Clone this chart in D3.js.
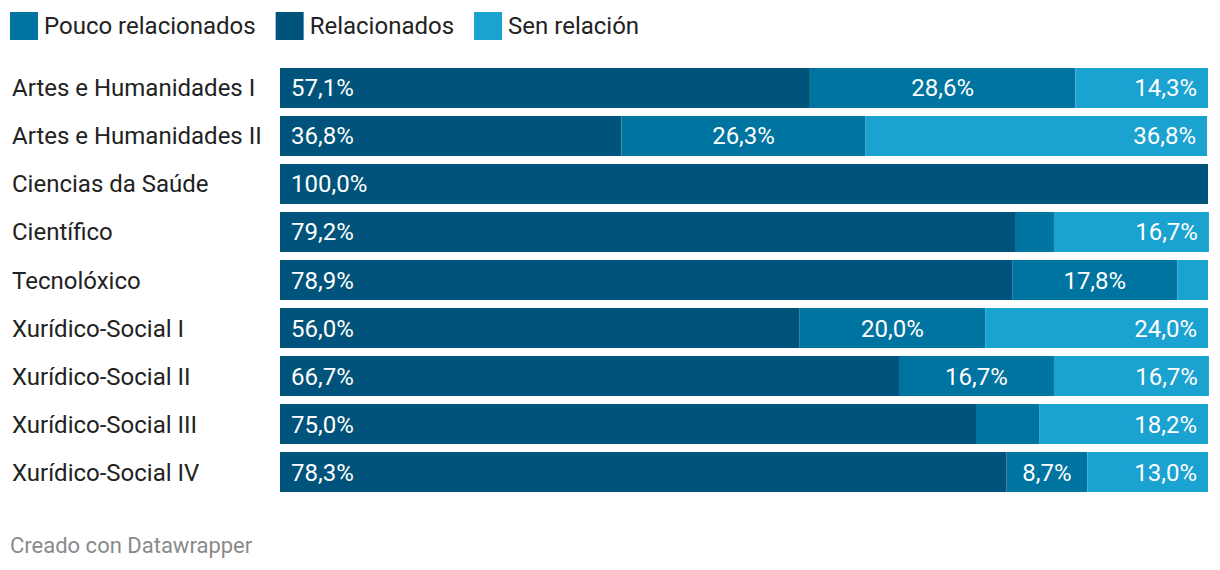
<!DOCTYPE html>
<html><head><meta charset="utf-8">
<script src="https://cdn.jsdelivr.net/npm/d3@7"></script>
<style>body{margin:0;background:#fff;font-family:Roboto,sans-serif;}</style>
</head><body>
<svg id="chart" width="1220" height="570"></svg>
<script>
const categories = ["Artes e Humanidades I","Artes e Humanidades II","Ciencias da Saúde","Científico","Tecnolóxico","Xurídico-Social I","Xurídico-Social II","Xurídico-Social III","Xurídico-Social IV"];
const relacionados = [57.1,36.8,100.0,79.2,78.9,56.0,66.7,75.0,78.3];
const poucoRelacionados = [28.6,26.3,0,4.2,17.8,20.0,16.7,6.8,8.7];
const senRelacion = [14.3,36.8,0,16.7,3.3,24.0,16.7,18.2,13.0];
const seriesNames = ["Relacionados","Pouco relacionados","Sen relación"];
const legendOrder = ["Pouco relacionados","Relacionados","Sen relación"];
const colors = {"Relacionados":"#00537a","Pouco relacionados":"#0074a0","Sen relación":"#1aa2d0"};

const svg = d3.select("#chart");
const fmt = v => v.toFixed(1).replace(".", ",") + "%";

// legend
let lx = 10;
const lg = svg.append("g");
legendOrder.forEach(name => {
  lg.append("rect").attr("x", lx).attr("y", 12).attr("width", 28).attr("height", 28).attr("fill", colors[name]);
  const t = lg.append("text").attr("x", lx + 34).attr("y", 34).attr("font-size", 24).attr("fill", "#222").text(name);
  lx += 34 + t.node().getComputedTextLength() + 20;
});

const data = categories.map((c, i) => ({cat: c, vals: [relacionados[i], poucoRelacionados[i], senRelacion[i]]}));
const x = d3.scaleLinear().domain([0, 100]).range([280, 1208]);
const y = d3.scaleBand().domain(categories).range([64, 496]).paddingInner(0.167).paddingOuter(0.083);

const rows = svg.append("g").selectAll("g").data(data).join("g");
rows.append("text").attr("x", 12).attr("y", d => y(d.cat) + y.bandwidth() / 2 + 8.5)
  .attr("font-size", 24).attr("fill", "#222").text(d => d.cat);

rows.each(function(d) {
  const g = d3.select(this);
  let acc = 0;
  d.vals.forEach((v, k) => {
    const x0 = x(acc), x1 = x(acc + v);
    acc += v;
    if (v <= 0) return;
    g.append("rect").attr("x", x0).attr("y", y(d.cat)).attr("width", x1 - x0).attr("height", y.bandwidth())
      .attr("fill", colors[seriesNames[k]]);
    if (v < 8 && k !== 0) return;
    const ty = y(d.cat) + y.bandwidth() / 2 + 8.5;
    let tx, anchor;
    if (k === 0) { tx = x0 + 11; anchor = "start"; }
    else if (k === 2) { tx = x1 - 11; anchor = "end"; }
    else { tx = (x0 + x1) / 2; anchor = "middle"; }
    g.append("text").attr("x", tx).attr("y", ty).attr("text-anchor", anchor)
      .attr("font-size", 24).attr("fill", "#fff").text(fmt(v));
  });
});

svg.append("text").attr("x", 10).attr("y", 553).attr("font-size", 22).attr("fill", "#8a8a8a").text("Creado con Datawrapper");
</script>
</body></html>
